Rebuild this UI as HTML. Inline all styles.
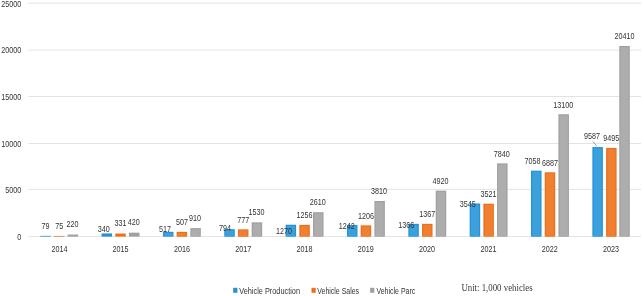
<!DOCTYPE html><html><head><meta charset="utf-8"><title>chart</title><style>html,body{margin:0;padding:0;background:#fff;}svg{display:block;will-change:transform}text{font-family:"Liberation Sans",sans-serif;fill:#333333}</style></head><body>
<svg width="644" height="296" viewBox="0 0 644 296">
<rect width="100%" height="100%" fill="#fff"/>
<line x1="28.5" x2="641" y1="236.5" y2="236.5" stroke="#e3e3e3" stroke-width="1"/>
<text x="21.3" y="239.5" font-size="8.6" text-anchor="end" textLength="4.0" lengthAdjust="spacingAndGlyphs">0</text>
<line x1="28.5" x2="641" y1="189.4" y2="189.4" stroke="#e3e3e3" stroke-width="1"/>
<text x="21.3" y="192.9" font-size="8.6" text-anchor="end" textLength="16.0" lengthAdjust="spacingAndGlyphs">5000</text>
<line x1="28.5" x2="641" y1="143.5" y2="143.5" stroke="#e3e3e3" stroke-width="1"/>
<text x="21.3" y="146.7" font-size="8.6" text-anchor="end" textLength="20.0" lengthAdjust="spacingAndGlyphs">10000</text>
<line x1="28.5" x2="641" y1="96.5" y2="96.5" stroke="#e3e3e3" stroke-width="1"/>
<text x="21.3" y="99.7" font-size="8.6" text-anchor="end" textLength="20.0" lengthAdjust="spacingAndGlyphs">15000</text>
<line x1="28.5" x2="641" y1="50.1" y2="50.1" stroke="#e3e3e3" stroke-width="1"/>
<text x="21.3" y="53.1" font-size="8.6" text-anchor="end" textLength="20.0" lengthAdjust="spacingAndGlyphs">20000</text>
<line x1="28.5" x2="641" y1="3.2" y2="3.2" stroke="#e3e3e3" stroke-width="1"/>
<text x="21.3" y="6.5" font-size="8.6" text-anchor="end" textLength="20.0" lengthAdjust="spacingAndGlyphs">25000</text>
<rect x="40.22" y="235.86" width="10.50" height="0.74" fill="#2393d8"/>
<rect x="53.92" y="235.90" width="10.50" height="0.70" fill="#ee6f19"/>
<rect x="67.62" y="234.55" width="10.50" height="2.05" fill="#a0a0a0"/>
<text x="59.4" y="251.8" font-size="8.6" text-anchor="middle" textLength="16.0" lengthAdjust="spacingAndGlyphs">2014</text>
<rect x="101.58" y="233.42" width="10.50" height="3.18" fill="#2393d8"/>
<rect x="115.28" y="233.51" width="10.50" height="3.09" fill="#ee6f19"/>
<rect x="128.97" y="232.68" width="10.50" height="3.92" fill="#a0a0a0"/>
<text x="120.6" y="251.8" font-size="8.6" text-anchor="middle" textLength="16.0" lengthAdjust="spacingAndGlyphs">2015</text>
<rect x="162.93" y="231.77" width="10.50" height="4.83" fill="#2393d8"/>
<rect x="164.12" y="232.97" width="8.10" height="3.63" fill="#3ba0db"/>
<rect x="176.62" y="231.86" width="10.50" height="4.74" fill="#ee6f19"/>
<rect x="177.82" y="233.06" width="8.10" height="3.54" fill="#ef7f31"/>
<rect x="190.32" y="228.10" width="10.50" height="8.50" fill="#a0a0a0"/>
<rect x="191.52" y="229.30" width="8.10" height="7.30" fill="#adadad"/>
<text x="181.9" y="251.8" font-size="8.6" text-anchor="middle" textLength="16.0" lengthAdjust="spacingAndGlyphs">2016</text>
<rect x="224.28" y="229.18" width="10.50" height="7.42" fill="#2393d8"/>
<rect x="225.47" y="230.38" width="8.10" height="6.22" fill="#3ba0db"/>
<rect x="237.97" y="229.34" width="10.50" height="7.26" fill="#ee6f19"/>
<rect x="239.17" y="230.54" width="8.10" height="6.06" fill="#ef7f31"/>
<rect x="251.67" y="222.31" width="10.50" height="14.29" fill="#a0a0a0"/>
<rect x="252.87" y="223.51" width="8.10" height="13.09" fill="#adadad"/>
<text x="243.2" y="251.8" font-size="8.6" text-anchor="middle" textLength="16.0" lengthAdjust="spacingAndGlyphs">2017</text>
<rect x="285.62" y="224.74" width="10.50" height="11.86" fill="#2393d8"/>
<rect x="286.82" y="225.94" width="8.10" height="10.66" fill="#3ba0db"/>
<rect x="299.32" y="224.87" width="10.50" height="11.73" fill="#ee6f19"/>
<rect x="300.52" y="226.07" width="8.10" height="10.53" fill="#ef7f31"/>
<rect x="313.02" y="212.22" width="10.50" height="24.38" fill="#a0a0a0"/>
<rect x="314.22" y="213.42" width="8.10" height="23.18" fill="#adadad"/>
<text x="304.5" y="251.8" font-size="8.6" text-anchor="middle" textLength="16.0" lengthAdjust="spacingAndGlyphs">2018</text>
<rect x="346.98" y="225.00" width="10.50" height="11.60" fill="#2393d8"/>
<rect x="348.18" y="226.20" width="8.10" height="10.40" fill="#3ba0db"/>
<rect x="360.68" y="225.34" width="10.50" height="11.26" fill="#ee6f19"/>
<rect x="361.88" y="226.54" width="8.10" height="10.06" fill="#ef7f31"/>
<rect x="374.38" y="201.01" width="10.50" height="35.59" fill="#a0a0a0"/>
<rect x="375.57" y="202.21" width="8.10" height="34.39" fill="#adadad"/>
<text x="365.8" y="251.8" font-size="8.6" text-anchor="middle" textLength="16.0" lengthAdjust="spacingAndGlyphs">2019</text>
<rect x="408.33" y="223.84" width="10.50" height="12.76" fill="#2393d8"/>
<rect x="409.53" y="225.04" width="8.10" height="11.56" fill="#3ba0db"/>
<rect x="422.03" y="223.83" width="10.50" height="12.77" fill="#ee6f19"/>
<rect x="423.23" y="225.03" width="8.10" height="11.57" fill="#ef7f31"/>
<rect x="435.73" y="190.65" width="10.50" height="45.95" fill="#a0a0a0"/>
<rect x="436.93" y="191.85" width="8.10" height="44.75" fill="#adadad"/>
<text x="427.1" y="251.8" font-size="8.6" text-anchor="middle" textLength="16.0" lengthAdjust="spacingAndGlyphs">2020</text>
<rect x="469.68" y="203.49" width="10.50" height="33.11" fill="#2393d8"/>
<rect x="470.88" y="204.69" width="8.10" height="31.91" fill="#3ba0db"/>
<rect x="483.38" y="203.71" width="10.50" height="32.89" fill="#ee6f19"/>
<rect x="484.57" y="204.91" width="8.10" height="31.69" fill="#ef7f31"/>
<rect x="497.07" y="163.37" width="10.50" height="73.23" fill="#a0a0a0"/>
<rect x="498.27" y="164.57" width="8.10" height="72.03" fill="#adadad"/>
<text x="488.4" y="251.8" font-size="8.6" text-anchor="middle" textLength="16.0" lengthAdjust="spacingAndGlyphs">2021</text>
<rect x="531.02" y="170.68" width="10.50" height="65.92" fill="#2393d8"/>
<rect x="532.23" y="171.88" width="8.10" height="64.72" fill="#3ba0db"/>
<rect x="544.73" y="172.28" width="10.50" height="64.32" fill="#ee6f19"/>
<rect x="545.93" y="173.48" width="8.10" height="63.12" fill="#ef7f31"/>
<rect x="558.43" y="114.25" width="10.50" height="122.35" fill="#a0a0a0"/>
<rect x="559.63" y="115.45" width="8.10" height="121.15" fill="#adadad"/>
<text x="549.8" y="251.8" font-size="8.6" text-anchor="middle" textLength="16.0" lengthAdjust="spacingAndGlyphs">2022</text>
<rect x="592.38" y="147.06" width="10.50" height="89.54" fill="#2393d8"/>
<rect x="593.58" y="148.26" width="8.10" height="88.34" fill="#3ba0db"/>
<rect x="606.08" y="147.92" width="10.50" height="88.68" fill="#ee6f19"/>
<rect x="607.28" y="149.12" width="8.10" height="87.48" fill="#ef7f31"/>
<rect x="619.28" y="45.97" width="10.50" height="190.63" fill="#a0a0a0"/>
<rect x="620.48" y="47.17" width="8.10" height="189.43" fill="#adadad"/>
<text x="611.1" y="251.8" font-size="8.6" text-anchor="middle" textLength="16.0" lengthAdjust="spacingAndGlyphs">2023</text>
<text x="45.5" y="228.6" font-size="8.6" text-anchor="middle" textLength="8.0" lengthAdjust="spacingAndGlyphs">79</text>
<text x="59.2" y="228.6" font-size="8.6" text-anchor="middle" textLength="8.0" lengthAdjust="spacingAndGlyphs">75</text>
<text x="72.4" y="227.2" font-size="8.6" text-anchor="middle" textLength="12.0" lengthAdjust="spacingAndGlyphs">220</text>
<text x="103.7" y="232.2" font-size="8.6" text-anchor="middle" textLength="12.0" lengthAdjust="spacingAndGlyphs">340</text>
<text x="120.5" y="226.2" font-size="8.6" text-anchor="middle" textLength="12.0" lengthAdjust="spacingAndGlyphs">331</text>
<text x="133.7" y="225.4" font-size="8.6" text-anchor="middle" textLength="12.0" lengthAdjust="spacingAndGlyphs">420</text>
<text x="165.0" y="232.0" font-size="8.6" text-anchor="middle" textLength="12.0" lengthAdjust="spacingAndGlyphs">517</text>
<text x="181.9" y="224.7" font-size="8.6" text-anchor="middle" textLength="12.0" lengthAdjust="spacingAndGlyphs">507</text>
<text x="195.1" y="221.2" font-size="8.6" text-anchor="middle" textLength="12.0" lengthAdjust="spacingAndGlyphs">910</text>
<text x="225.1" y="231.2" font-size="8.6" text-anchor="middle" textLength="12.0" lengthAdjust="spacingAndGlyphs">794</text>
<text x="243.2" y="222.5" font-size="8.6" text-anchor="middle" textLength="12.0" lengthAdjust="spacingAndGlyphs">777</text>
<text x="256.4" y="215.4" font-size="8.6" text-anchor="middle" textLength="16.0" lengthAdjust="spacingAndGlyphs">1530</text>
<text x="284.0" y="234.1" font-size="8.6" text-anchor="middle" textLength="16.0" lengthAdjust="spacingAndGlyphs">1270</text>
<text x="304.6" y="218.0" font-size="8.6" text-anchor="middle" textLength="16.0" lengthAdjust="spacingAndGlyphs">1256</text>
<text x="317.8" y="205.4" font-size="8.6" text-anchor="middle" textLength="16.0" lengthAdjust="spacingAndGlyphs">2610</text>
<text x="346.7" y="228.6" font-size="8.6" text-anchor="middle" textLength="16.0" lengthAdjust="spacingAndGlyphs">1242</text>
<text x="365.9" y="218.5" font-size="8.6" text-anchor="middle" textLength="16.0" lengthAdjust="spacingAndGlyphs">1206</text>
<text x="379.1" y="194.2" font-size="8.6" text-anchor="middle" textLength="16.0" lengthAdjust="spacingAndGlyphs">3810</text>
<text x="406.3" y="228.4" font-size="8.6" text-anchor="middle" textLength="16.0" lengthAdjust="spacingAndGlyphs">1366</text>
<text x="427.3" y="217.0" font-size="8.6" text-anchor="middle" textLength="16.0" lengthAdjust="spacingAndGlyphs">1367</text>
<text x="440.5" y="183.8" font-size="8.6" text-anchor="middle" textLength="16.0" lengthAdjust="spacingAndGlyphs">4920</text>
<text x="467.8" y="207.4" font-size="8.6" text-anchor="middle" textLength="16.0" lengthAdjust="spacingAndGlyphs">3545</text>
<text x="488.6" y="196.9" font-size="8.6" text-anchor="middle" textLength="16.0" lengthAdjust="spacingAndGlyphs">3521</text>
<text x="501.8" y="156.6" font-size="8.6" text-anchor="middle" textLength="16.0" lengthAdjust="spacingAndGlyphs">7840</text>
<text x="532.6" y="164.0" font-size="8.6" text-anchor="middle" textLength="16.0" lengthAdjust="spacingAndGlyphs">7058</text>
<text x="550.0" y="165.5" font-size="8.6" text-anchor="middle" textLength="16.0" lengthAdjust="spacingAndGlyphs">6887</text>
<text x="563.2" y="107.6" font-size="8.6" text-anchor="middle" textLength="20.0" lengthAdjust="spacingAndGlyphs">13100</text>
<text x="592.0" y="138.6" font-size="8.6" text-anchor="middle" textLength="16.0" lengthAdjust="spacingAndGlyphs">9587</text>
<text x="611.3" y="141.2" font-size="8.6" text-anchor="middle" textLength="16.0" lengthAdjust="spacingAndGlyphs">9495</text>
<text x="624.4" y="38.7" font-size="8.6" text-anchor="middle" textLength="20.0" lengthAdjust="spacingAndGlyphs">20410</text>
<line x1="592.9" y1="141.4" x2="597" y2="146.4" stroke="#7a7a7a" stroke-width="0.7"/>
<rect x="233.2" y="287.8" width="4.2" height="5" fill="#2393d8"/>
<text x="239.2" y="293.6" font-size="8.6" textLength="60.8" lengthAdjust="spacingAndGlyphs">Vehicle Production</text>
<rect x="311.5" y="287.8" width="4.2" height="5" fill="#ee6f19"/>
<text x="317.3" y="293.6" font-size="8.6" textLength="41.8" lengthAdjust="spacingAndGlyphs">Vehicle Sales</text>
<rect x="370.1" y="287.8" width="4.2" height="5" fill="#a0a0a0"/>
<text x="376.4" y="293.6" font-size="8.6" textLength="38.9" lengthAdjust="spacingAndGlyphs">Vehicle Parc</text>
<text x="461.4" y="290.9" font-size="10.8" textLength="71.2" lengthAdjust="spacingAndGlyphs" style="font-family:'Liberation Serif',serif;fill:#3a3a3a">Unit: 1,000 vehicles</text>
</svg></body></html>
